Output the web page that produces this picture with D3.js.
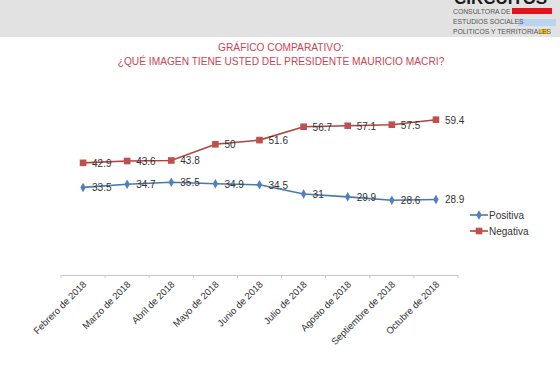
<!DOCTYPE html>
<html><head><meta charset="utf-8">
<script src="https://cdn.jsdelivr.net/npm/d3@7"></script>
<style>body{margin:0;background:#fff}svg{display:block}</style>
</head><body><svg id="c" width="560" height="390"></svg>
<script>
const categories = ["Febrero de 2018","Marzo de 2018","Abril de 2018","Mayo de 2018","Junio de 2018","Julio de 2018","Agosto de 2018","Septiembre de 2018","Octubre de 2018"];
const positiva = [33.5,34.7,35.5,34.9,34.5,31,29.9,28.6,28.9];
const negativa = [42.9,43.6,43.8,50,51.6,56.7,57.1,57.5,59.4];
const seriesNames = ["Positiva","Negativa"];
const titleLines = ["GRÁFICO COMPARATIVO:","¿QUÉ IMAGEN TIENE USTED DEL PRESIDENTE MAURICIO MACRI?"];

const svg = d3.select("#c");
const font = "Liberation Sans, Arial, sans-serif";

// header band
svg.append("rect").attr("x",0).attr("y",0).attr("width",560).attr("height",37).attr("fill","#e2e2e2");
const logo = svg.append("g").attr("font-family",font);
logo.append("text").attr("x",454).attr("y",4).attr("font-size",17).attr("font-weight","bold").attr("fill","#1a1a1a").text("CIRCUITOS");
logo.append("rect").attr("x",512).attr("y",8).attr("width",40).attr("height",6).attr("fill","#e0141e");
logo.append("rect").attr("x",518).attr("y",19).attr("width",38).attr("height",7).attr("fill","#b8d4ee");
logo.append("rect").attr("x",540).attr("y",29).attr("width",8).attr("height",5).attr("fill","#f2c200");
logo.append("text").attr("x",453).attr("y",14).attr("font-size",6.8).attr("fill","#555").text("CONSULTORA DE");
logo.append("text").attr("x",453).attr("y",24).attr("font-size",6.8).attr("fill","#555").text("ESTUDIOS SOCIALES");
logo.append("text").attr("x",453).attr("y",34).attr("font-size",6.8).attr("fill","#555").text("POLITICOS Y TERRITORIALES");

// title
svg.append("g").selectAll("text").data(titleLines).join("text")
  .attr("x",281).attr("y",(d,i)=>51+i*13.5).attr("text-anchor","middle")
  .attr("font-family",font).attr("font-size",10.2).attr("fill","#cc4455").text(d=>d);

const x = d3.scaleBand().domain(categories).range([61,458]);
const y = d3.scaleLinear().domain([0,70]).range([275,92]);
const cx = d => x(d)+x.bandwidth()/2;

// axis
const ax = svg.append("g").attr("transform","translate(0,275)")
  .call(d3.axisBottom(x).tickSize(0).tickFormat(""));
ax.select(".domain").attr("stroke","#c8c8c8");
const bounds = categories.map(c=>x(c)).concat([458]);
svg.append("g").selectAll("line").data(bounds).join("line")
  .attr("x1",d=>d).attr("x2",d=>d).attr("y1",275).attr("y2",278).attr("stroke","#c8c8c8");
svg.append("g").selectAll("text").data(categories).join("text")
  .attr("transform",d=>`translate(${cx(d)+4},${285}) rotate(-45)`)
  .attr("text-anchor","end").attr("font-family",font).attr("font-size",9.5).attr("fill","#333").text(d=>d);

const line = d3.line().x((d,i)=>cx(categories[i])).y(d=>y(d));
const cols = {Positiva:{line:"#4a78ad",mark:"#4f81bd"},Negativa:{line:"#b0443f",mark:"#c0504d"}};

function drawSeries(vals,name){
  const g = svg.append("g");
  g.append("path").datum(vals).attr("d",line).attr("fill","none").attr("stroke",cols[name].line).attr("stroke-width",1.6);
  const sym = name==="Negativa" ? d3.symbol(d3.symbolSquare,44) : d3.symbol(d3.symbolDiamond,26);
  g.selectAll("path.m").data(vals).join("path").attr("class","m")
    .attr("transform",(d,i)=>`translate(${cx(categories[i])},${y(d)})`)
    .attr("d",sym).attr("fill",cols[name].mark);
  g.selectAll("text").data(vals).join("text")
    .attr("x",(d,i)=>cx(categories[i])+9).attr("y",d=>y(d)+4)
    .attr("font-family",font).attr("font-size",10).attr("fill","#333").text(d=>d);
}
drawSeries(negativa,"Negativa");
drawSeries(positiva,"Positiva");

// legend
const lg = svg.append("g");
seriesNames.forEach((n,i)=>{
  const yy = 215 + i*16;
  lg.append("line").attr("x1",470).attr("x2",488).attr("y1",yy).attr("y2",yy).attr("stroke",cols[n].line).attr("stroke-width",1.6);
  lg.append("path").attr("transform",`translate(479,${yy})`).attr("d", n==="Negativa"?d3.symbol(d3.symbolSquare,44):d3.symbol(d3.symbolDiamond,26)).attr("fill",cols[n].mark);
  lg.append("text").attr("x",489).attr("y",yy+4).attr("font-family",font).attr("font-size",10).attr("fill","#333").text(n);
});
</script></body></html>
